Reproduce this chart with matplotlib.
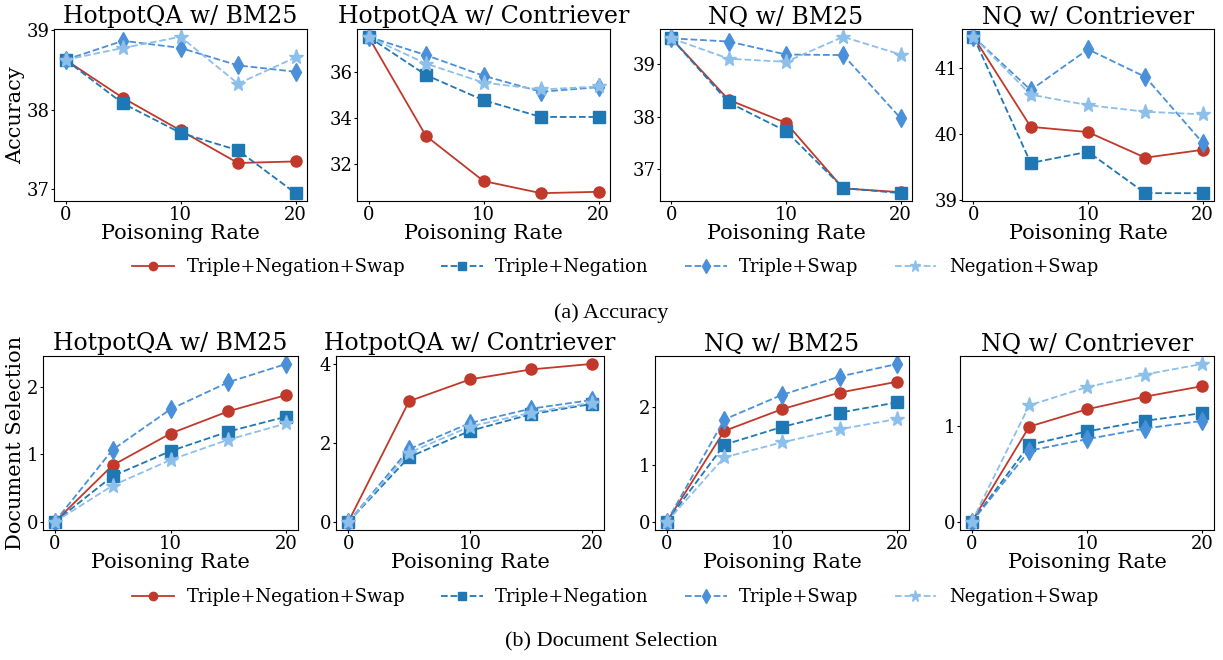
import matplotlib
matplotlib.use("Agg")
import matplotlib.pyplot as plt

# poisoning rates (x axis)
rates = [0, 5, 10, 15, 20]

methods = ["Triple+Negation+Swap", "Triple+Negation", "Triple+Swap", "Negation+Swap"]
colors = ["#c0392b", "#1f77b4", "#4a90d9", "#8dbfeb"]
markers = ["o", "s", "d", "*"]
styles = ["-", "--", "--", "--"]

titles = ["HotpotQA w/ BM25", "HotpotQA w/ Contriever", "NQ w/ BM25", "NQ w/ Contriever"]

# (a) accuracy, per setting: [TNS, TN, TS, NS]
acc_hotpot_bm25 = [
    [38.63, 38.15, 37.74, 37.33, 37.35],
    [38.63, 38.08, 37.71, 37.49, 36.95],
    [38.63, 38.87, 38.78, 38.56, 38.48],
    [38.63, 38.78, 38.92, 38.33, 38.66],
]
acc_hotpot_contriever = [
    [37.55, 33.22, 31.25, 30.72, 30.78],
    [37.55, 35.88, 34.78, 34.05, 34.05],
    [37.55, 36.75, 35.85, 35.15, 35.35],
    [37.55, 36.38, 35.55, 35.25, 35.38],
]
acc_nq_bm25 = [
    [39.5, 38.32, 37.88, 36.62, 36.55],
    [39.5, 38.27, 37.72, 36.63, 36.53],
    [39.5, 39.44, 39.19, 39.18, 37.97],
    [39.5, 39.11, 39.05, 39.53, 39.19],
]
acc_nq_contriever = [
    [41.48, 40.11, 40.03, 39.64, 39.76],
    [41.48, 39.56, 39.73, 39.1, 39.1],
    [41.48, 40.67, 41.29, 40.87, 39.87],
    [41.48, 40.6, 40.44, 40.34, 40.3],
]

# (b) document selection
doc_hotpot_bm25 = [
    [0, 0.84, 1.31, 1.64, 1.88],
    [0, 0.68, 1.05, 1.34, 1.56],
    [0, 1.07, 1.67, 2.07, 2.34],
    [0, 0.54, 0.92, 1.22, 1.46],
]
doc_hotpot_contriever = [
    [0, 3.05, 3.6, 3.85, 3.99],
    [0, 1.64, 2.3, 2.72, 2.98],
    [0, 1.84, 2.5, 2.86, 3.08],
    [0, 1.75, 2.41, 2.76, 3.01],
]
doc_nq_bm25 = [
    [0, 1.59, 1.97, 2.26, 2.45],
    [0, 1.35, 1.66, 1.91, 2.09],
    [0, 1.79, 2.22, 2.54, 2.76],
    [0, 1.13, 1.39, 1.62, 1.8],
]
doc_nq_contriever = [
    [0, 0.99, 1.17, 1.3, 1.41],
    [0, 0.8, 0.94, 1.05, 1.13],
    [0, 0.74, 0.86, 0.97, 1.05],
    [0, 1.21, 1.4, 1.53, 1.64],
]

acc_yticks = [[37, 38, 39], [32, 34, 36], [37, 38, 39], [39, 40, 41]]
doc_yticks = [[0, 1, 2], [0, 2, 4], [0, 1, 2], [0, 1]]

plt.rcParams['font.family'] = ['DejaVu Serif']

W, H = 1223, 660
fig = plt.figure(figsize=(W / 100, H / 100), dpi=100)


def make_ax(x0, y0, w, h):
    # pixel box -> figure fraction
    return fig.add_axes([x0 / W, 1 - (y0 + h) / H, w / W, h / H])


def draw(ax, data, title, yticks):
    for vals, c, m, ls, name in zip(data, colors, markers, styles, methods):
        ms = 11 if m == "*" else (9 if m == "d" else 8)
        ax.plot(rates, vals, color=c, marker=m, linestyle=ls, linewidth=1.3,
                markersize=ms, label=name)
    ax.set_title(title, fontsize=17, pad=4)
    ax.set_xlabel("Poisoning Rate", fontsize=15, labelpad=0)
    ax.set_xticks([0, 10, 20])
    ax.set_yticks(yticks)
    ax.tick_params(labelsize=13, length=2, pad=1.5)


top_data = [acc_hotpot_bm25, acc_hotpot_contriever, acc_nq_bm25, acc_nq_contriever]
bot_data = [doc_hotpot_bm25, doc_hotpot_contriever, doc_nq_bm25, doc_nq_contriever]

top_x = [54, 357, 660, 962]
top_w = [253, 253, 252, 252]
bot_x = [43, 336, 655, 960]
bot_w = [255, 268, 254, 254]

for i in range(4):
    ax = make_ax(top_x[i], 29, top_w[i], 172)
    draw(ax, top_data[i], titles[i], acc_yticks[i])
    if i == 0:
        ax.set_ylabel("Accuracy", fontsize=15, labelpad=1)
        handles, labels = ax.get_legend_handles_labels()

for i in range(4):
    ax = make_ax(bot_x[i], 356, bot_w[i], 174)
    draw(ax, bot_data[i], titles[i], doc_yticks[i])
    if i == 0:
        ax.set_ylabel("Document Selection", fontsize=15, labelpad=1)

for yc in [267, 597]:
    fig.legend(handles, labels, loc="center", bbox_to_anchor=(0.503, 1 - yc / H),
               ncol=4, frameon=False, fontsize=13, handlelength=2.3,
               columnspacing=2.0, handletextpad=0.7, markerscale=0.75)

fig.text(0.5, 1 - 313 / H, "(a) Accuracy", ha="center", va="center",
         fontsize=16, family="Liberation Serif")
fig.text(0.5, 1 - 642 / H, "(b) Document Selection", ha="center", va="center",
         fontsize=16, family="Liberation Serif")

fig.savefig("out.png", dpi=100)
